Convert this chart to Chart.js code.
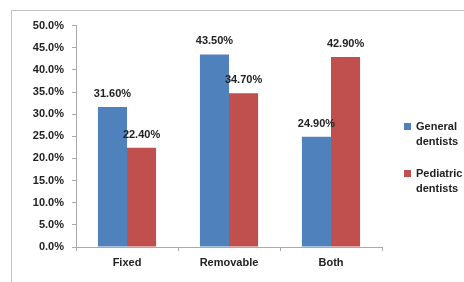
<!DOCTYPE html>
<html>
<head>
<meta charset="utf-8">
<script src="https://cdn.jsdelivr.net/npm/chart.js@4"></script>
<style>
  body { margin: 0; background: #fff; width: 464px; height: 282px; overflow: hidden; position: relative; font-family: "Liberation Sans", Arial, sans-serif; }
  #frame { position: absolute; left: 11px; top: 10px; width: 453px; height: 272px; border-top: 1px solid #c4c4c4; border-left: 1px solid #c4c4c4; }
  #myChart { position: absolute; left: 0; top: 0; }
  .leg { position: absolute; font: bold 11px "Liberation Sans", Arial, sans-serif; color: #222; line-height: 15px; }
  .leg i { position: absolute; left: -12px; top: 4px; width: 7px; height: 7px; }
</style>
</head>
<body>
<div id="frame"><canvas id="myChart" width="452" height="271"></canvas></div>
<div id="legend"></div>
<script>
var categories = ['Fixed', 'Removable', 'Both'];
var seriesNames = [['General', 'dentists'], ['Pediatric', 'dentists']];
var generalDentists = [31.6, 43.5, 24.9];
var pediatricDentists = [22.4, 34.7, 42.9];
var seriesColors = ['#4F81BD', '#C0504D'];

var fontBold = { family: '"Liberation Sans", Arial, sans-serif', size: 11, weight: 'bold' };

// etiquetas de valor encima de cada barra
var valueLabels = {
    id: 'valueLabels',
    afterDatasetsDraw: function (chart) {
        var ctx = chart.ctx;
        ctx.save();
        ctx.font = 'bold 11px "Liberation Sans", Arial, sans-serif';
        ctx.fillStyle = '#222';
        ctx.textAlign = 'center';
        ctx.textBaseline = 'middle';
        chart.data.datasets.forEach(function (ds, i) {
            chart.getDatasetMeta(i).data.forEach(function (bar, j) {
                ctx.fillText(ds.data[j].toFixed(2) + '%', bar.x, bar.y - 13);
            });
        });
        ctx.restore();
    }
};

var ctx = document.getElementById('myChart').getContext('2d');
new Chart(ctx, {
    type: 'bar',
    data: {
        labels: categories,
        datasets: [
            { label: seriesNames[0].join(' '), data: generalDentists, backgroundColor: seriesColors[0] },
            { label: seriesNames[1].join(' '), data: pediatricDentists, backgroundColor: seriesColors[1] }
        ]
    },
    options: {
        responsive: false,
        animation: false,
        layout: { padding: { top: 13, right: 82, left: 0, bottom: 0 } },
        datasets: { bar: { categoryPercentage: 0.57, barPercentage: 1 } },
        scales: {
            x: {
                grid: { drawOnChartArea: false, tickLength: 4, color: '#aaa', offset: true },
                border: { color: '#aaa' },
                ticks: { color: '#222', font: fontBold, padding: 5 },
                afterFit: function (scale) { scale.height = 35; }
            },
            y: {
                min: 0,
                max: 50,
                grid: { drawOnChartArea: false, tickLength: 4, color: '#aaa' },
                border: { color: '#aaa' },
                ticks: {
                    stepSize: 5,
                    color: '#222',
                    font: fontBold,
                    padding: 8,
                    callback: function (v) { return v.toFixed(1) + '%'; }
                },
                afterFit: function (scale) { scale.width = 64; }
            }
        },
        plugins: {
            legend: { display: false },
            tooltip: { enabled: false }
        }
    },
    plugins: [valueLabels]
});

// leyenda a la derecha
var legendTops = [119, 166];
var legend = document.getElementById('legend');
seriesNames.forEach(function (name, i) {
    var d = document.createElement('div');
    d.className = 'leg';
    d.style.left = '416px';
    d.style.top = legendTops[i] + 'px';
    d.innerHTML = '<i style="background:' + seriesColors[i] + '"></i>' + name.join('<br>');
    legend.appendChild(d);
});
</script>
</body>
</html>
